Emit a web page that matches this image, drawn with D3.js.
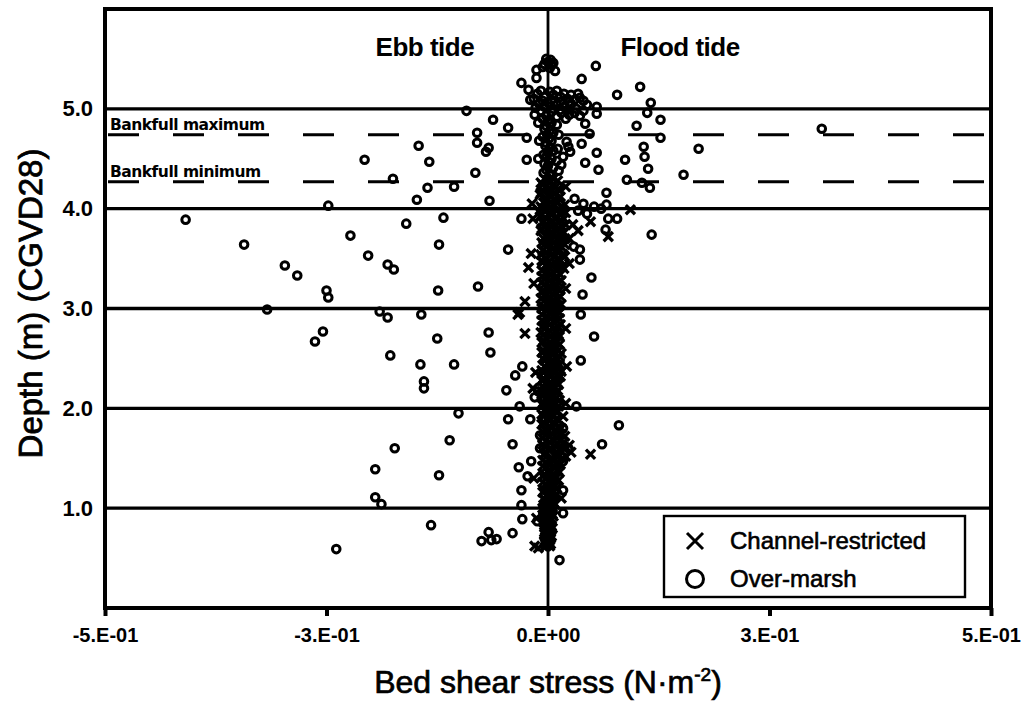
<!DOCTYPE html>
<html>
<head>
<meta charset="utf-8">
<script src="https://cdn.jsdelivr.net/npm/d3@7"></script>
<style>
  html, body { margin: 0; padding: 0; background: #fff; }
  svg { display: block; }
</style>
</head>
<body>
<svg id="chart" width="1033" height="701"></svg>
<script>
// Axis ticks and their printed labels (Excel-style "0.E+00" formatting)
const xTicks = [-0.5, -0.25, 0, 0.25, 0.5];
const xTickLabels = ["-5.E-01", "-3.E-01", "0.E+00", "3.E-01", "5.E-01"];
const yTicks = [1, 2, 3, 4, 5];
const yTickLabels = ["1.0", "2.0", "3.0", "4.0", "5.0"];

// Reference water levels (m, CGVD28)
const bankfullNames = ["Bankfull maximum", "Bankfull minimum"];
const bankfullDepths = [4.74, 4.27];

const tideNames = ["Ebb tide", "Flood tide"];
const seriesNames = ["Channel-restricted", "Over-marsh"];

// Channel-restricted samples: [bed shear stress (N/m2), depth (m)]
const channelOuter = [
  [0.093, 3.99], [0.068, 3.72], [0.048, 3.87], [-0.017, 3.90], [-0.022, 3.41],
  [-0.026, 3.07], [-0.032, 2.96], [-0.034, 2.94], [-0.026, 2.75], [-0.014, 2.36],
  [-0.011, 0.60], [0.048, 1.54], [0.015, 2.55], [0.015, 2.37], [0.017, 1.92],
  [0.020, 4.22], [0.028, 3.84], [0.034, 3.78], [0.024, 3.70], [-0.018, 4.05],
  [-0.019, 3.55], [0.024, 3.45], [0.020, 3.20], [-0.016, 3.25], [0.020, 2.80],
  [0.021, 2.42], [-0.017, 2.20], [0.020, 2.05], [0.024, 1.63], [0.026, 1.56],
  [-0.016, 1.30], [0.015, 1.10], [-0.013, 0.90], [-0.015, 0.62]
];

// Channel-restricted samples clustered around zero stress
const channelCore = [
  [-0.004, 4.30], [0.006, 4.30], [0.002, 4.26], [-0.008, 4.26], [0.009, 4.22], [-0.003, 4.22],
  [-0.006, 4.18], [0.004, 4.18], [0.013, 4.18], [0.001, 4.14], [-0.009, 4.14], [0.007, 4.10],
  [-0.002, 4.10], [-0.005, 4.06], [0.011, 4.06], [0.003, 4.02], [-0.008, 4.02], [0.015, 4.02],
  [0.010, 3.98], [-0.004, 3.98], [-0.007, 3.94], [0.014, 3.94], [0.004, 3.94], [0.008, 3.90],
  [-0.002, 3.90], [0.018, 3.90], [-0.006, 3.86], [0.012, 3.86], [0.003, 3.82], [0.016, 3.82],
  [-0.004, 3.82], [-0.008, 3.78], [0.009, 3.78], [0.014, 3.74], [0.001, 3.74], [-0.005, 3.70],
  [0.011, 3.70], [0.019, 3.70], [0.006, 3.66], [-0.007, 3.66], [0.015, 3.62], [-0.001, 3.62],
  [-0.006, 3.58], [0.009, 3.58], [0.004, 3.54], [0.017, 3.54], [-0.008, 3.54], [-0.003, 3.50],
  [0.012, 3.50], [0.008, 3.46], [-0.006, 3.46], [0.016, 3.42], [0.001, 3.42], [-0.007, 3.38],
  [0.010, 3.38], [0.004, 3.34], [0.014, 3.34], [-0.004, 3.30], [0.009, 3.30], [0.012, 3.26],
  [-0.007, 3.26], [0.002, 3.22], [0.008, 3.22], [-0.006, 3.18], [0.013, 3.18], [0.005, 3.14],
  [-0.002, 3.14], [0.011, 3.10], [-0.008, 3.10], [0.001, 3.06], [0.007, 3.06], [-0.005, 3.02],
  [0.012, 3.02], [0.008, 2.98], [-0.001, 2.98], [-0.007, 2.94], [0.010, 2.94], [0.003, 2.90],
  [0.013, 2.90], [-0.004, 2.86], [0.007, 2.86], [0.011, 2.82], [-0.006, 2.82], [0.002, 2.78],
  [0.009, 2.78], [-0.005, 2.74], [0.012, 2.74], [0.006, 2.70], [-0.002, 2.70], [0.010, 2.66],
  [-0.007, 2.66], [0.001, 2.62], [0.008, 2.62], [-0.005, 2.58], [0.012, 2.58], [0.004, 2.54],
  [-0.002, 2.54], [0.010, 2.50], [-0.006, 2.50], [0.002, 2.46], [0.007, 2.46], [-0.004, 2.42],
  [0.011, 2.42], [0.006, 2.38], [-0.007, 2.38], [0.012, 2.34], [0.000, 2.34], [-0.005, 2.30],
  [0.007, 2.30], [0.003, 2.26], [0.010, 2.26], [-0.006, 2.22], [0.005, 2.22], [0.011, 2.18],
  [-0.001, 2.18], [0.004, 2.14], [-0.007, 2.14], [0.009, 2.10], [-0.002, 2.10], [-0.005, 2.06],
  [0.006, 2.06], [0.012, 2.02], [0.001, 2.02], [-0.004, 1.98], [0.008, 1.98], [0.003, 1.94],
  [-0.007, 1.94], [0.010, 1.90], [-0.001, 1.90], [-0.005, 1.86], [0.006, 1.86], [0.012, 1.82],
  [0.002, 1.82], [-0.003, 1.78], [0.008, 1.78], [0.005, 1.74], [0.015, 1.74], [-0.006, 1.70],
  [0.010, 1.70], [0.002, 1.66], [0.018, 1.66], [0.008, 1.62], [-0.004, 1.62], [0.014, 1.58],
  [0.001, 1.58], [-0.005, 1.54], [0.009, 1.54], [0.004, 1.50], [0.016, 1.50], [-0.002, 1.46],
  [0.010, 1.46], [0.007, 1.42], [-0.006, 1.42], [0.001, 1.38], [0.011, 1.38], [-0.004, 1.34],
  [0.006, 1.34], [0.009, 1.30], [-0.002, 1.30], [0.003, 1.26], [-0.006, 1.26], [0.008, 1.22],
  [-0.001, 1.22], [-0.004, 1.18], [0.004, 1.18], [0.002, 1.14], [0.009, 1.14], [-0.005, 1.10],
  [0.003, 1.10], [0.006, 1.06], [-0.002, 1.06], [-0.003, 1.02], [0.004, 1.02], [0.001, 0.98],
  [-0.005, 0.98], [0.005, 0.94], [-0.001, 0.94], [-0.003, 0.90], [0.003, 0.90], [0.000, 0.86],
  [-0.005, 0.86], [0.004, 0.82], [-0.002, 0.82], [-0.003, 0.78], [0.002, 0.78], [0.001, 0.74],
  [-0.004, 0.74], [-0.002, 0.70], [0.003, 0.70], [0.001, 0.66], [-0.004, 0.66], [-0.002, 0.62],
  [0.002, 0.62]
];

// Further channel-restricted samples between the rows above
const channelCoreB = [
  [0.011, 4.28], [-0.001, 4.28], [-0.006, 4.24], [0.005, 4.24], [0.002, 4.20], [0.012, 4.20],
  [-0.008, 4.16], [0.008, 4.16], [0.004, 4.12], [0.014, 4.12], [-0.003, 4.08], [0.009, 4.08],
  [0.006, 4.04], [0.019, 4.04], [-0.006, 4.00], [0.012, 4.00], [0.002, 3.96], [0.020, 3.96],
  [-0.009, 3.92], [0.010, 3.92], [0.005, 3.88], [0.015, 3.88], [-0.002, 3.84], [0.020, 3.84],
  [0.012, 3.80], [-0.007, 3.80], [0.005, 3.76], [0.018, 3.76], [-0.002, 3.72], [0.008, 3.72],
  [0.013, 3.68], [0.001, 3.68], [-0.004, 3.64], [0.019, 3.64], [0.006, 3.60], [0.012, 3.60],
  [-0.002, 3.56], [0.011, 3.56], [0.007, 3.52], [0.019, 3.52], [-0.007, 3.48], [0.014, 3.48],
  [0.004, 3.44], [-0.002, 3.44], [0.011, 3.40], [0.018, 3.40], [-0.002, 3.36], [0.006, 3.36],
  [0.010, 3.32], [-0.007, 3.32], [0.002, 3.28], [0.015, 3.28], [-0.004, 3.24], [0.010, 3.24],
  [0.006, 3.20], [-0.001, 3.20], [0.009, 3.16], [-0.007, 3.16], [0.002, 3.12], [0.014, 3.12],
  [-0.004, 3.08], [0.005, 3.08], [0.009, 3.04], [0.015, 3.04], [-0.007, 3.00], [0.003, 3.00],
  [0.005, 2.96], [0.013, 2.96], [-0.002, 2.92], [0.008, 2.92], [0.010, 2.88], [-0.007, 2.88],
  [0.002, 2.84], [0.014, 2.84], [-0.004, 2.80], [0.006, 2.80], [0.010, 2.76], [-0.008, 2.76],
  [0.003, 2.72], [0.013, 2.72], [-0.005, 2.68], [0.007, 2.68], [0.004, 2.64], [0.013, 2.64],
  [-0.002, 2.60], [0.009, 2.60], [0.007, 2.56], [-0.007, 2.56], [0.001, 2.52], [0.013, 2.52],
  [-0.004, 2.48], [0.005, 2.48], [0.008, 2.44], [0.013, 2.44], [-0.001, 2.40], [0.004, 2.40],
  [0.009, 2.36], [-0.005, 2.36], [0.003, 2.32], [0.014, 2.32], [-0.007, 2.28], [0.008, 2.28],
  [0.001, 2.24], [0.012, 2.24], [-0.004, 2.20], [0.007, 2.20], [0.010, 2.16], [0.001, 2.16],
  [-0.006, 2.12], [0.006, 2.12], [0.002, 2.08], [0.013, 2.08], [-0.007, 2.04], [0.008, 2.04],
  [0.004, 2.00], [-0.002, 2.00], [0.010, 1.96], [0.001, 1.96], [-0.005, 1.92], [0.006, 1.92],
  [0.002, 1.88], [0.012, 1.88], [-0.007, 1.84], [0.008, 1.84], [0.004, 1.80], [0.015, 1.80],
  [-0.005, 1.76], [0.011, 1.76], [0.001, 1.72], [0.019, 1.72], [0.007, 1.68], [0.014, 1.68],
  [-0.006, 1.64], [0.011, 1.64], [0.003, 1.60], [0.020, 1.60], [-0.002, 1.56], [0.010, 1.56],
  [0.012, 1.52], [0.020, 1.52], [-0.006, 1.48], [0.006, 1.48], [0.003, 1.44], [0.014, 1.44],
  [-0.003, 1.40], [0.008, 1.40], [0.013, 1.36], [0.002, 1.36], [-0.006, 1.32], [0.008, 1.32],
  [0.004, 1.28], [0.012, 1.28], [-0.003, 1.24], [0.006, 1.24], [0.010, 1.20], [0.001, 1.20],
  [-0.006, 1.16], [0.006, 1.16], [0.000, 1.12], [0.007, 1.12], [-0.004, 1.08], [0.004, 1.08],
  [0.001, 1.04], [0.008, 1.04], [-0.006, 1.00], [0.002, 1.00], [0.003, 0.96], [-0.003, 0.96],
  [0.000, 0.92], [0.006, 0.92], [-0.004, 0.88], [0.002, 0.88], [0.002, 0.84], [-0.003, 0.84],
  [-0.001, 0.80], [0.005, 0.80], [0.003, 0.76], [-0.004, 0.76], [-0.001, 0.72], [0.004, 0.72],
  [0.002, 0.68], [-0.003, 0.68], [-0.003, 0.64], [0.003, 0.64]
];

// Over-marsh samples: [bed shear stress (N/m2), depth (m)]
const overMarsh = [
  // ebb side, away from the channel
  [-0.146, 4.63], [-0.207, 4.49], [-0.134, 4.47], [-0.175, 4.30], [-0.136, 4.21], [-0.106, 4.22],
  [-0.148, 4.09], [-0.248, 4.03], [-0.409, 3.89], [-0.118, 3.91], [-0.160, 3.85], [-0.343, 3.64],
  [-0.223, 3.73], [-0.123, 3.64], [-0.203, 3.53], [-0.297, 3.43], [-0.283, 3.33], [-0.181, 3.44],
  [-0.174, 3.39], [-0.250, 3.18], [-0.248, 3.11], [-0.124, 3.18], [-0.317, 2.99], [-0.190, 2.97],
  [-0.181, 2.91], [-0.143, 2.94], [-0.254, 2.77], [-0.263, 2.67], [-0.125, 2.70], [-0.178, 2.53],
  [-0.144, 2.44], [-0.106, 2.44], [-0.140, 2.27], [-0.140, 2.20], [-0.101, 1.95], [-0.111, 1.68],
  [-0.173, 1.60], [-0.195, 1.39], [-0.123, 1.33], [-0.195, 1.11], [-0.188, 1.04], [-0.132, 0.83],
  [-0.239, 0.59],
  // ebb side, near the channel
  [-0.092, 4.98], [-0.062, 4.89], [-0.045, 4.81], [-0.080, 4.76], [-0.080, 4.66], [-0.067, 4.61],
  [-0.070, 4.57], [-0.024, 4.71], [-0.024, 4.49], [-0.082, 4.36], [-0.066, 4.08], [-0.030, 3.90],
  [-0.045, 3.59], [-0.079, 3.22], [-0.015, 4.94], [-0.030, 5.26], [-0.022, 5.19], [-0.020, 5.09],
  [-0.013, 5.39], [-0.013, 5.31], [-0.067, 2.76], [-0.065, 2.56], [-0.029, 2.42], [-0.037, 2.33],
  [-0.047, 2.18], [-0.015, 2.11], [-0.011, 2.17], [-0.032, 2.02], [-0.045, 1.89], [-0.020, 1.89],
  [-0.040, 1.64], [-0.009, 1.73], [-0.009, 1.60], [-0.019, 1.47], [-0.033, 1.41], [-0.023, 1.32],
  [-0.030, 1.18], [-0.030, 1.03], [-0.029, 0.89], [-0.012, 0.87], [-0.040, 0.75], [-0.067, 0.76],
  [-0.075, 0.67], [-0.064, 0.68], [-0.058, 0.69],
  // around zero stress, upper part
  [0.000, 5.47], [0.004, 5.44], [-0.004, 5.45], [0.008, 5.38], [-0.006, 5.42],
  [0.003, 5.49], [-0.002, 5.50], [0.006, 5.46], [0.002, 5.41],
  [-0.012, 5.15], [-0.004, 5.12], [0.006, 5.14], [0.014, 5.12], [0.022, 5.10], [0.030, 5.09],
  [0.036, 5.11], [-0.010, 5.05], [0.000, 5.06], [0.010, 5.04], [0.018, 5.02], [0.026, 5.05],
  [0.032, 5.00], [-0.008, 4.98], [0.004, 4.97], [0.015, 4.96], [0.024, 4.94],
  [-0.016, 5.10], [-0.008, 5.18], [0.002, 5.17], [0.010, 5.18], [0.018, 5.15], [0.026, 5.14],
  [0.034, 5.15], [0.040, 5.08], [0.044, 5.04], [-0.014, 5.01], [-0.004, 5.02], [0.006, 5.00],
  [0.014, 4.99], [0.022, 4.99], [0.030, 4.96], [0.040, 4.98], [-0.002, 4.93], [0.010, 4.92],
  [0.020, 4.90], [0.004, 5.09], [0.014, 5.07], [0.024, 5.07], [-0.006, 5.08],
  [-0.006, 4.90], [0.004, 4.86], [-0.004, 4.80], [0.006, 4.76], [-0.006, 4.72], [0.004, 4.68],
  [-0.003, 4.63], [0.006, 4.58], [-0.005, 4.54], [0.004, 4.50], [-0.004, 4.45], [0.006, 4.41],
  [-0.005, 4.36], [0.003, 4.33], [0.000, 4.88], [-0.002, 4.83], [0.002, 4.78], [-0.001, 4.74],
  [0.001, 4.70], [-0.002, 4.66], [0.002, 4.61], [0.000, 4.56], [-0.002, 4.52], [0.001, 4.47],
  [0.000, 4.43], [-0.002, 4.39], [0.002, 4.35], [0.010, 4.84], [0.012, 4.74], [0.011, 4.60],
  [0.010, 4.48], [0.012, 4.38], [-0.011, 4.86], [-0.010, 4.68], [-0.011, 4.50],
  [0.021, 4.67], [0.025, 4.57], [0.017, 4.52], [0.015, 4.44],
  [0.023, 4.62], [0.030, 4.10], [0.040, 4.05], [0.034, 3.98], [0.044, 3.95], [0.052, 4.02],
  [0.060, 4.00],
  // flood side
  [0.054, 5.43], [0.038, 5.30], [0.078, 5.14], [0.104, 5.22], [0.116, 5.06], [0.112, 4.96],
  [0.127, 4.89], [0.100, 4.83], [0.127, 4.71], [0.108, 4.62], [0.170, 4.60], [0.109, 4.52],
  [0.113, 4.40], [0.153, 4.34], [0.309, 4.80], [0.106, 4.26], [0.115, 4.21], [0.089, 4.29],
  [0.087, 4.49], [0.055, 4.56], [0.042, 4.46], [0.057, 4.39], [0.055, 4.95], [0.055, 5.02],
  [0.036, 4.93], [0.042, 4.85], [0.047, 4.75], [0.038, 4.65], [0.066, 4.16], [0.066, 4.04],
  [0.068, 3.90], [0.078, 3.90], [0.065, 3.79], [0.117, 3.74], [0.036, 3.59], [0.029, 3.62],
  [0.036, 3.49], [0.049, 3.31], [0.039, 3.14], [0.037, 2.94], [0.052, 2.72], [0.037, 2.48],
  [0.080, 1.83], [0.061, 1.64], [0.023, 1.60], [0.017, 1.47], [0.017, 1.80], [0.017, 1.18],
  [0.017, 0.95], [0.013, 0.48], [0.032, 2.02]
];

const svg = d3.select("#chart");
const W = 1033, H = 701;
const margin = { left: 105, right: W - 991, top: 9, bottom: H - 608 };

const x = d3.scaleLinear().domain([-0.5, 0.5]).range([margin.left, W - margin.right]);
const y = d3.scaleLinear().domain([0, 6]).range([H - margin.bottom, margin.top]);

const FONT = "'Liberation Sans', Arial, Helvetica, sans-serif";

svg.append("rect").attr("width", W).attr("height", H).attr("fill", "#fff");

// Horizontal grid lines at each labelled depth
svg.append("g").selectAll("line").data(yTicks).join("line")
  .attr("x1", x(-0.5)).attr("x2", x(0.5))
  .attr("y1", d => y(d)).attr("y2", d => y(d))
  .attr("stroke", "#000").attr("stroke-width", 3.4);

// Bankfull levels (long dashes)
svg.append("g").selectAll("line").data(bankfullDepths).join("line")
  .attr("x1", x(-0.5) + 3).attr("x2", x(0.5))
  .attr("y1", d => y(d)).attr("y2", d => y(d))
  .attr("stroke", "#000").attr("stroke-width", 3)
  .attr("stroke-dasharray", "31 34");

svg.append("g").selectAll("text").data(bankfullNames).join("text")
  .attr("x", x(-0.5) + 5)
  .attr("y", (d, i) => y(bankfullDepths[i]) - 5)
  .attr("font-family", "'DejaVu Sans', Verdana, sans-serif")
  .attr("font-weight", "bold")
  .attr("font-size", 15.5)
  .attr("letter-spacing", -0.5)
  .attr("fill", "#000")
  .text(d => d);

// Zero-stress divider between ebb and flood
svg.append("line")
  .attr("x1", x(0)).attr("x2", x(0))
  .attr("y1", y(6)).attr("y2", y(0))
  .attr("stroke", "#000").attr("stroke-width", 2.8);

// Ebb / flood headings
svg.append("g").selectAll("text").data(tideNames).join("text")
  .attr("x", (d, i) => x(i === 0 ? -0.139 : 0.149))
  .attr("y", y(5.53))
  .attr("text-anchor", "middle")
  .attr("font-family", FONT)
  .attr("font-weight", "bold")
  .attr("font-size", 26)
  .attr("letter-spacing", -0.5)
  .attr("fill", "#000")
  .text(d => d);

// Over-marsh points (open circles)
const pts = svg.append("g");
pts.selectAll("circle").data(overMarsh).join("circle")
  .attr("cx", d => x(d[0])).attr("cy", d => y(d[1]))
  .attr("r", 3.8)
  .attr("fill", "none").attr("stroke", "#000").attr("stroke-width", 3);

// Channel-restricted points (x marks)
const xMark = s => `M${-s},${-s}L${s},${s}M${-s},${s}L${s},${-s}`;
pts.selectAll("path.ch").data(channelCore.concat(channelCoreB, channelOuter)).join("path")
  .attr("class", "ch")
  .attr("transform", d => `translate(${x(d[0])},${y(d[1])})`)
  .attr("d", xMark(4.6))
  .attr("fill", "none").attr("stroke", "#000").attr("stroke-width", 3.3);

// Plot frame
svg.append("rect")
  .attr("x", x(-0.5)).attr("y", y(6))
  .attr("width", x(0.5) - x(-0.5)).attr("height", y(0) - y(6))
  .attr("fill", "none").attr("stroke", "#000").attr("stroke-width", 4);

// X axis
const xAxis = d3.axisBottom(x)
  .tickValues(xTicks)
  .tickSize(8)
  .tickPadding(12)
  .tickFormat((d, i) => xTickLabels[i]);
const gx = svg.append("g").attr("transform", `translate(0,${y(0)})`).call(xAxis);
gx.select(".domain").remove();
gx.selectAll(".tick line").attr("stroke", "#000").attr("stroke-width", 4);
gx.selectAll(".tick text")
  .attr("font-family", FONT).attr("font-weight", "bold").attr("font-size", 20)
  .attr("fill", "#000");

// Y axis
const yAxis = d3.axisLeft(y)
  .tickValues(yTicks)
  .tickSize(0)
  .tickPadding(12)
  .tickFormat((d, i) => yTickLabels[i]);
const gy = svg.append("g").attr("transform", `translate(${x(-0.5)},0)`).call(yAxis);
gy.select(".domain").remove();
gy.selectAll(".tick text")
  .attr("font-family", FONT).attr("font-weight", "bold").attr("font-size", 22)
  .attr("fill", "#000");

// Axis titles
const xTitle = svg.append("text")
  .attr("x", x(0)).attr("y", 693)
  .attr("text-anchor", "middle")
  .attr("font-family", FONT).attr("font-size", 32)
  .attr("fill", "#000").attr("stroke", "#000").attr("stroke-width", 0.7);
xTitle.append("tspan").text("Bed shear stress  (N\u00B7m");
xTitle.append("tspan").attr("dy", -12).attr("font-size", 19).text("-2");
xTitle.append("tspan").attr("dy", 12).text(")");

svg.append("text")
  .attr("transform", `translate(42,${y(3.05)}) rotate(-90)`)
  .attr("text-anchor", "middle")
  .attr("font-family", FONT).attr("font-size", 33)
  .attr("fill", "#000").attr("stroke", "#000").attr("stroke-width", 0.8)
  .text("Depth (m) (CGVD28)");

// Legend
const legend = svg.append("g");
legend.append("rect")
  .attr("x", 664).attr("y", 516).attr("width", 301).attr("height", 81)
  .attr("fill", "#fff").attr("stroke", "#000").attr("stroke-width", 2.4);
legend.append("path")
  .attr("transform", "translate(695,541)")
  .attr("d", xMark(8))
  .attr("fill", "none").attr("stroke", "#000").attr("stroke-width", 3);
legend.append("circle")
  .attr("cx", 695).attr("cy", 579).attr("r", 8.5)
  .attr("fill", "none").attr("stroke", "#000").attr("stroke-width", 3);
legend.selectAll("text").data(seriesNames).join("text")
  .attr("x", 730).attr("y", (d, i) => 549 + i * 38)
  .attr("font-family", FONT).attr("font-size", 24)
  .attr("fill", "#000").attr("stroke", "#000").attr("stroke-width", 0.6)
  .text(d => d);
</script>
</body>
</html>
